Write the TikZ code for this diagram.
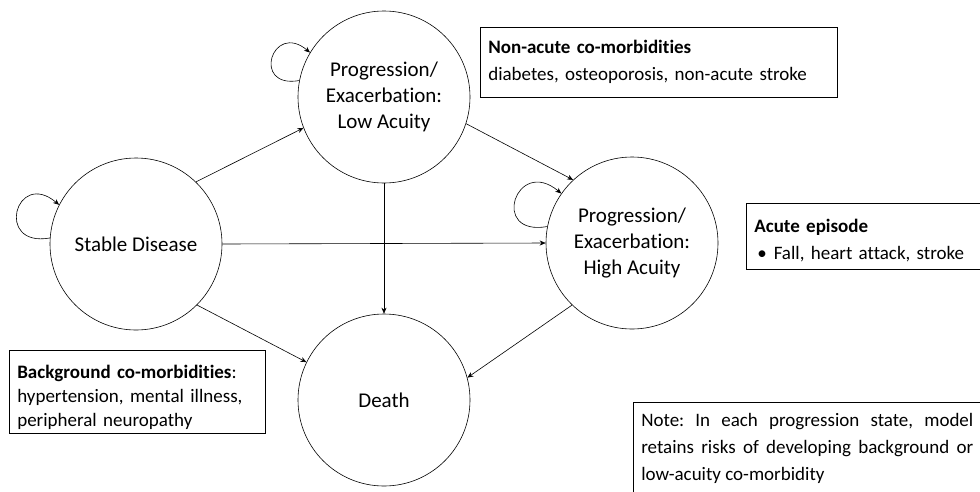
\documentclass[tikz,border=0pt]{standalone}
\usepackage{fontspec}
\setmainfont{Carlito}[Ligatures=NoCommon]
\usetikzlibrary{arrows.meta}
\hyphenpenalty=10000
\exhyphenpenalty=10000
\frenchspacing

\begin{document}
\begin{tikzpicture}[x=1pt, y=1pt, line width=0.6pt, >={Stealth[length=6pt,width=5pt]},
	state/.style={draw, circle, minimum size=172pt, inner sep=0pt, align=center, font=\fontsize{21}{26}\selectfont},
	infobox/.style={draw, anchor=north west, align=left, inner ysep=0pt, inner xsep=8pt, font=\fontsize{19}{27}\selectfont}]
	\clip (0,0) rectangle (980,-491);
	\node[state] (stable) at (136,-244) {Stable Disease};
	\node[state] (low) at (384,-97) {Progression/\\Exacerbation:\\Low Acuity};
	\node[state] (high) at (632,-243) {Progression/\\Exacerbation:\\High Acuity};
	\node[state] (death) at (384,-400) {Death};
	\draw[->] (stable.46) -- (low.201);
	\draw[->] (stable.0) -- (high.180);
	\draw[->] (stable.-45) -- (death.154);
	\draw[->] (low.south) -- (death.north);
	\draw[->] (low.-18) -- (high.133);
	\draw[->] (high.226) -- (death.15);
	\draw[->] (stable.176) to[out=190, in=140, looseness=4.2] (stable.153);
	\draw[->] (low.169) to[out=190, in=140, looseness=4.2] (low.149);
	\draw[->] (high.169) to[out=190, in=140, looseness=4.2] (high.145);
	\node[infobox, text width=341pt, minimum height=70pt] (nonacute) at (480,-27)
		{\textbf{Non-acute co-morbidities}\\diabetes, osteoporosis, non-acute stroke};
	\node[infobox, text width=240pt, minimum height=66pt] (acute) at (746,-203)
		{\rule{0pt}{22pt}\textbf{Acute episode}\\\hspace*{3pt}•\hspace{7pt}Fall, heart attack, stroke};
	\node[infobox, text width=240pt, minimum height=83pt, font=\fontsize{19}{24}\selectfont] (background) at (9,-350)
		{\rule{0pt}{24pt}\textbf{Background co-morbidities}:\\hypertension, mental illness,\\peripheral neuropathy};
	\node[infobox, text width=332pt, minimum height=92pt, align=justify] (note) at (633,-402)
		{Note: In each progression state, model retains risks of developing background or low-acuity co-morbidity};
\end{tikzpicture}
\end{document}
